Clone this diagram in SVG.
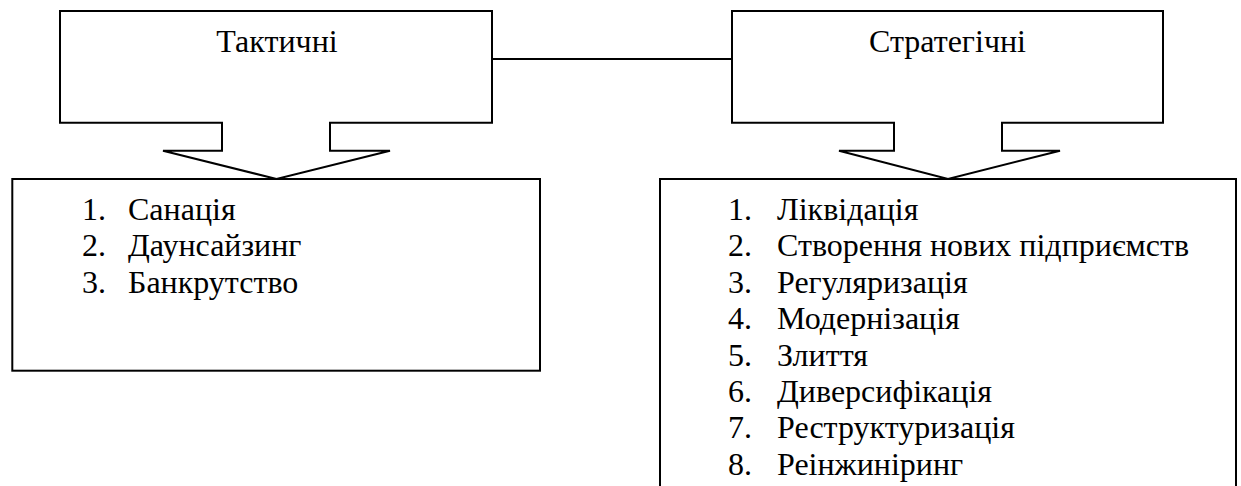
<svg xmlns="http://www.w3.org/2000/svg" width="1241" height="486" viewBox="0 0 1241 486">
<style>
.shape{fill:#fff;stroke:#000;stroke-width:2;stroke-linejoin:miter}
.ln{fill:none;stroke:#000;stroke-width:2}
</style>
<rect width="1241" height="486" fill="#fff"/>
<g id="connectors">
<line class="ln" x1="492" y1="59" x2="732" y2="59"/>
</g>
<g id="tactical">
<polygon class="shape" points="60,11 492,11 492,122.7 330,122.7 330,150.7 390,150.7 276.5,179 163,150.7 222,150.7 222,122.7 60,122.7"/>
<text x="277" y="52" text-anchor="middle" style="font-family:'Liberation Serif',serif;font-size:32px;fill:#000">Тактичні</text>
</g>
<g id="strategic">
<polygon class="shape" points="732,11 1163,11 1163,122.7 1002,122.7 1002,150.7 1060,150.7 948,179 839,150.7 894,150.7 894,122.7 732,122.7"/>
<text x="947.5" y="52" text-anchor="middle" style="font-family:'Liberation Serif',serif;font-size:32px;fill:#000">Стратегічні</text>
</g>
<g id="tactical-list">
<rect class="shape" x="12.3" y="179" width="527.7" height="191.7"/>
<text x="82" y="220" style="font-family:'Liberation Serif',serif;font-size:32px;fill:#000">1.<tspan x="128">Санація</tspan></text>
<text x="82" y="256.4" style="font-family:'Liberation Serif',serif;font-size:32px;fill:#000">2.<tspan x="128">Даунсайзинг</tspan></text>
<text x="82" y="292.8" style="font-family:'Liberation Serif',serif;font-size:32px;fill:#000">3.<tspan x="128">Банкрутство</tspan></text>
</g>
<g id="strategic-list">
<rect class="shape" x="660" y="179" width="576" height="320"/>
<text x="728" y="220" style="font-family:'Liberation Serif',serif;font-size:32px;fill:#000">1.<tspan x="777">Ліквідація</tspan></text>
<text x="728" y="256.4" style="font-family:'Liberation Serif',serif;font-size:32px;fill:#000">2.<tspan x="777">Створення нових підприємств</tspan></text>
<text x="728" y="292.8" style="font-family:'Liberation Serif',serif;font-size:32px;fill:#000">3.<tspan x="777">Регуляризація</tspan></text>
<text x="728" y="329.2" style="font-family:'Liberation Serif',serif;font-size:32px;fill:#000">4.<tspan x="777">Модернізація</tspan></text>
<text x="728" y="365.6" style="font-family:'Liberation Serif',serif;font-size:32px;fill:#000">5.<tspan x="777">Злиття</tspan></text>
<text x="728" y="402" style="font-family:'Liberation Serif',serif;font-size:32px;fill:#000">6.<tspan x="777">Диверсифікація</tspan></text>
<text x="728" y="438.4" style="font-family:'Liberation Serif',serif;font-size:32px;fill:#000">7.<tspan x="777">Реструктуризація</tspan></text>
<text x="728" y="474.8" style="font-family:'Liberation Serif',serif;font-size:32px;fill:#000">8.<tspan x="777">Реінжиніринг</tspan></text>
</g>
</svg>
